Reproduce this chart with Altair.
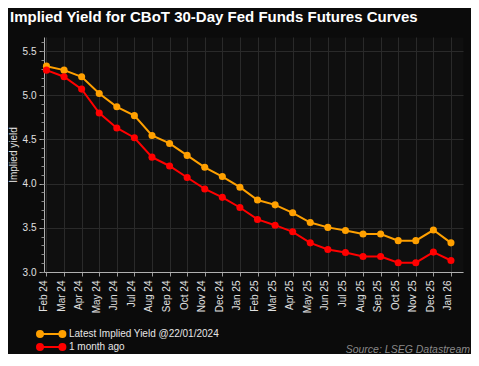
import altair as alt
import pandas as pd

months = ["Feb 24", "Mar 24", "Apr 24", "May 24", "Jun 24", "Jul 24", "Aug 24",
          "Sep 24", "Oct 24", "Nov 24", "Dec 24", "Jan 25", "Feb 25", "Mar 25",
          "Apr 25", "May 25", "Jun 25", "Jul 25", "Aug 25", "Sep 25", "Oct 25",
          "Nov 25", "Dec 25", "Jan 26"]
latest = [5.33, 5.285, 5.21, 5.02, 4.87, 4.77, 4.545, 4.455, 4.32, 4.185, 4.08, 3.96,
          3.815, 3.76, 3.67, 3.56, 3.505, 3.47, 3.43, 3.43, 3.355, 3.355, 3.475, 3.33]
month_ago = [5.285, 5.21, 5.07, 4.80, 4.63, 4.52, 4.30, 4.20, 4.07, 3.94, 3.845, 3.73,
             3.595, 3.53, 3.455, 3.33, 3.255, 3.22, 3.175, 3.175, 3.105, 3.105, 3.225, 3.13]
series_names = ["Latest Implied Yield @22/01/2024", "1 month ago"]
series_colors = ["#ffa000", "#ff0000"]
y_major = [3.0, 3.5, 4.0, 4.5, 5.0, 5.5]
y_minor = [round(3.0 + 0.1 * i, 1) for i in range(27)]
title_text = "Implied Yield for CBoT 30-Day Fed Funds Futures Curves"
y_title = "Implied yield"
source_text = "Source: LSEG Datastream"

rows = []
for name, vals in zip(series_names, [latest, month_ago]):
    for m, v in zip(months, vals):
        rows.append({"month": m, "series": name, "value": v})
df = pd.DataFrame(rows)

FONT = "Liberation Sans"


def ring(cx, r):
    return f"M{cx + r},0A{r},{r},0,1,1,{cx - r},0A{r},{r},0,1,1,{cx + r},0Z"


legend_path = "M4,0L26.4,0" + "".join(ring(c, r) for c in (4, 26.4) for r in (1, 2, 3))

y_scale = alt.Scale(domain=[3.0, 5.66], nice=False, zero=False)
x_scale = alt.Scale(type="point", padding=0.412, align=0.17)
x_axis = alt.Axis(title=None, labelAngle=270, labelAlign="right", labelBaseline="alphabetic",
                  labelFontSize=10, labelFont=FONT, labelColor="#e0e0e0", labelPadding=4,
                  labelOverlap=False, tickSize=4, tickColor="#9a9a9a", domainColor="#b0b0b0",
                  grid=True, gridColor="#2a2a2a")
x_enc = alt.X("month:N", sort=months, scale=x_scale, axis=x_axis)
color_scale = alt.Scale(domain=series_names, range=series_colors)

lines = alt.Chart(df).mark_line(strokeWidth=2).encode(
    x=x_enc,
    y=alt.Y("value:Q", scale=y_scale,
            axis=alt.Axis(values=y_major, format=".1f", title=y_title, orient="left",
                          labelFontSize=10, labelFont=FONT, labelColor="#e0e0e0",
                          labelPadding=3, tickSize=5, tickColor="#b0b0b0",
                          domainColor="#b0b0b0", grid=True, gridColor="#2a2a2a",
                          titleFont=FONT, titleFontSize=10, titleFontWeight="normal",
                          titleColor="#e0e0e0", titleX=-28, titleBaseline="alphabetic")),
    color=alt.Color("series:N", scale=color_scale, sort=series_names,
                    legend=alt.Legend(title=None, orient="none", legendX=-13, legendY=292,
                                      symbolType=legend_path, symbolSize=4,
                                      symbolStrokeWidth=2, labelOffset=28,
                                      labelFontSize=10, labelFont=FONT,
                                      labelColor="#e6e6e6", rowPadding=-9.5, padding=0)),
)

points = alt.Chart(df).mark_circle(size=50, opacity=1).encode(
    x=x_enc,
    y=alt.Y("value:Q", scale=y_scale,
            axis=alt.Axis(values=y_minor, labels=False, ticks=True, tickSize=3,
                          tickColor="#8a8a8a", domain=False, grid=False, title=None,
                          orient="left")),
    fill=alt.Fill("series:N", scale=color_scale, sort=series_names, legend=None),
)

source = alt.Chart(pd.DataFrame({"t": [source_text]})).mark_text(
    align="right", baseline="alphabetic", fontSize=10.5, font=FONT, fontStyle="italic",
    color="#8a8a8a"
).encode(text="t:N", x=alt.value(426), y=alt.value(316))

heading = alt.Chart(pd.DataFrame({"t": [title_text]})).mark_text(
    align="left", baseline="alphabetic", fontSize=15, font=FONT, fontWeight="bold",
    color="#ffffff"
).encode(text="t:N", x=alt.value(-34), y=alt.value(-15))

chart = alt.layer(lines, points, source, heading).resolve_axis(y="independent").properties(
    width=419, height=235,
    padding={"left": 36, "top": 29, "right": 8, "bottom": 82},
    autosize=alt.AutoSizeParams(type="none"),
    background="#0b0b0b",
).configure_view(fill="#0f0f0f", stroke="transparent")

chart.save("out.html", embed_options={"renderer": "svg", "actions": False})
